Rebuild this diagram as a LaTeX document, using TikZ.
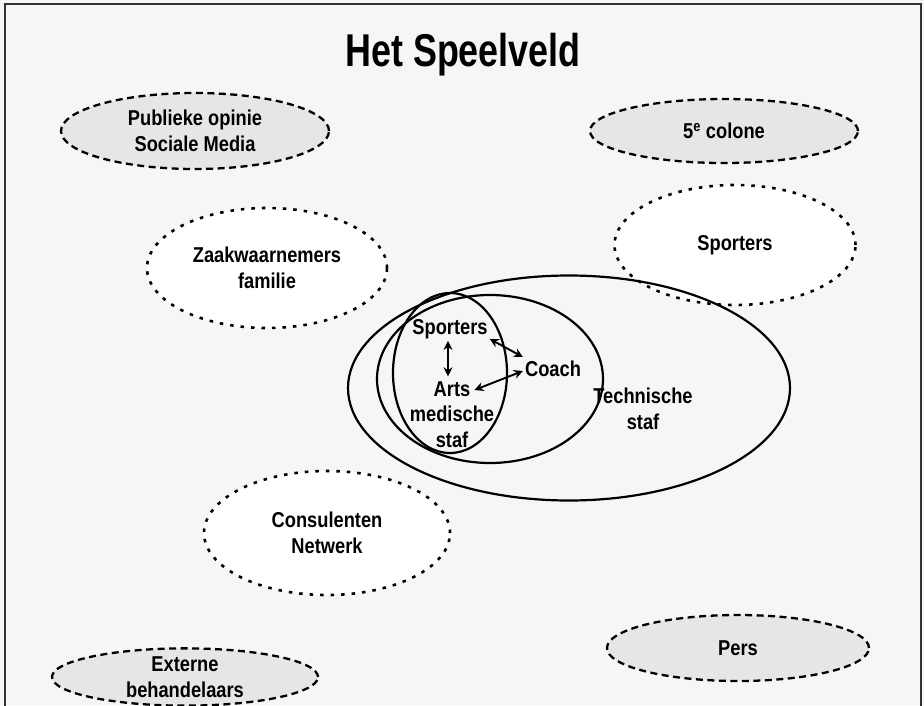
\documentclass[tikz,border=0pt]{standalone}
\usepackage{fontspec}
\setmainfont[FakeStretch=0.85]{Liberation Sans}
\newfontfamily\titlefont[FakeStretch=0.78]{Liberation Sans}
\usetikzlibrary{shapes.geometric,arrows.meta}
\definecolor{bgcol}{HTML}{F5F6F5}
\definecolor{grayfill}{HTML}{E5E6E6}
\definecolor{framecol}{HTML}{333333}
\tikzset{
  greyell/.style={ellipse, draw=black, fill=grayfill, dash pattern=on 7pt off 4.5pt, line width=2.3pt, inner sep=0pt, align=center},
  whiteell/.style={ellipse, draw=black, fill=white, dash pattern=on 3.5pt off 7pt, line width=2.6pt, inner sep=0pt, align=center},
  solidell/.style={ellipse, draw=black, line width=2.2pt, inner sep=0pt},
  lbl/.style={inner sep=1pt, align=center},
  arr/.style={{Stealth[length=9pt,width=9pt]}-{Stealth[length=9pt,width=9pt]}, line width=1.9pt}
}
\begin{document}
\begin{tikzpicture}[x=1pt,y=-1pt, font=\bfseries\fontsize{21.5}{25.5}\selectfont]
\fill[bgcol] (0,0) rectangle (924,705);
\useasboundingbox (0,0) rectangle (924,705);
\draw[framecol, line width=1.8pt] (5,720) -- (5,4) -- (921,4) -- (921,720);

\node[lbl, font=\titlefont\bfseries\fontsize{46}{50}\selectfont] (title) at (463,55) {Het Speelveld};

% grey dashed ellipses
\node[greyell, minimum width=268pt, minimum height=76pt] (pub) at (195,131) {Publieke opinie\\Sociale Media};
\node[greyell, minimum width=268pt, minimum height=64pt] (col) at (724,131) {5\textsuperscript{e} colone};
\node[greyell, minimum width=262pt, minimum height=66pt] (pers) at (738,648) {Pers};
\node[greyell, minimum width=266pt, minimum height=50pt] (ext) at (185,677) {Externe\\behandelaars};

% white dashed ellipses
\node[whiteell, minimum width=240pt, minimum height=120pt] (zaak) at (267,268) {Zaakwaarnemers\\familie};
\node[whiteell, minimum width=241pt, minimum height=120pt] (sprt) at (735,245) {Sporters};
\node[whiteell, minimum width=246pt, minimum height=124pt] (cons) at (327,533) {Consulenten\\Netwerk};

% central solid ellipses
\node[solidell, minimum width=442pt, minimum height=225pt] (tech) at (569,388) {};
\node[solidell, minimum width=226pt, minimum height=168pt] (mid) at (490,379) {};
\node[solidell, minimum width=114pt, minimum height=160pt] (inner) at (450,373) {};

% labels
\node[lbl] (sp) at (450,329) {Sporters};
\node[lbl] (arts) at (452,389) {Arts};
\node[lbl] (med) at (452,427) {medische\\staf};
\node[lbl] (coach) at (553,369) {Coach};
\node[lbl] (ts) at (643,409) {Technische\\staf};

% arrows
\draw[arr] ([xshift=-2pt,yshift=-1pt]sp.south) -- ([xshift=-4pt,yshift=4pt]arts.north);
\draw[arr] ([xshift=1pt,yshift=1pt]sp.south east) -- ([xshift=-1pt,yshift=12pt]coach.west);
\draw[arr] ([xshift=3pt,yshift=-1pt]arts.east) -- ([xshift=-1pt,yshift=-2pt]coach.west);
\end{tikzpicture}
\end{document}
